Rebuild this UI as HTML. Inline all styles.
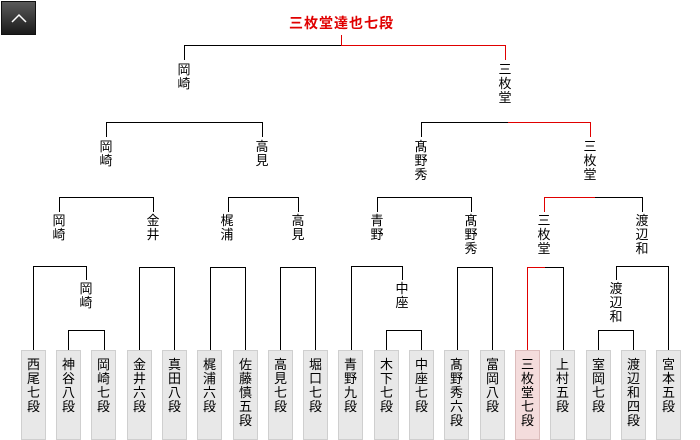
<!DOCTYPE html>
<html><head><meta charset="utf-8"><style>
body{margin:0;background:#fff;width:700px;height:440px;position:relative;overflow:hidden;font-family:"Liberation Sans","Noto Sans CJK JP",sans-serif;}
.l{position:absolute;width:16px;margin-left:-8px;font-size:13px;line-height:14px;text-align:center;color:#000;}
.b{position:absolute;top:350px;background:#e8e8e8;border:1px solid #cfcfcf;font-size:13px;line-height:14px;text-align:center;padding-top:7px;box-sizing:border-box;width:25px;height:90px;}
.b.r{background:#f4dcdc;border-color:#dcbcbc;}
#up{position:absolute;left:1px;top:1px;width:35px;height:34px;background:linear-gradient(#5a5a5a,#1a1a1a);border:1px solid #111;box-sizing:border-box;}
#t{position:absolute;left:289px;top:15px;font-size:14px;font-weight:bold;color:#e00000;letter-spacing:1px;line-height:16px;}
.h,.v{position:absolute;background:#000;}
.h{height:1px}.v{width:1px}
.red{background:#e00000;}
</style></head><body>
<div id="up"><svg width="35" height="34"><polyline points="10,20 17,13 24,20" fill="none" stroke="#fff" stroke-width="1.5"/></svg></div>
<div id="t">三枚堂達也七段</div>
<svg width="700" height="440" style="position:absolute;left:0;top:0" shape-rendering="crispEdges">
<g stroke="#000" stroke-width="1" fill="none">
<polyline points="68.5,350 68.5,330.5 104.5,330.5 104.5,350"/>
<polyline points="386.5,350 386.5,330.5 421.5,330.5 421.5,350"/>
<polyline points="598.5,350 598.5,330.5 633.5,330.5 633.5,350"/>
<polyline points="33.5,350 33.5,266.5 86.5,266.5 86.5,280"/>
<polyline points="351.5,350 351.5,266.5 402.5,266.5 402.5,280"/>
<polyline points="668.5,350 668.5,266.5 616.5,266.5 616.5,280"/>
<polyline points="139.5,350 139.5,267.5 174.5,267.5 174.5,350"/>
<polyline points="210.5,350 210.5,267.5 245.5,267.5 245.5,350"/>
<polyline points="280.5,350 280.5,267.5 315.5,267.5 315.5,350"/>
<polyline points="457.5,350 457.5,267.5 492.5,267.5 492.5,350"/>
<polyline points="59.5,212 59.5,197.5 153.5,197.5 153.5,212"/>
<polyline points="228.5,212 228.5,197.5 298.5,197.5 298.5,212"/>
<polyline points="377.5,212 377.5,197.5 471.5,197.5 471.5,212"/>
<polyline points="106.5,137 106.5,122.5 262.5,122.5 262.5,137"/>
<polyline points="421.5,137 421.5,122.5 508,122.5"/>
<polyline points="184.5,60 184.5,45.5 341,45.5"/>
</g>
</svg>
<div class="v red" style="left:527px;top:267px;height:83px"></div>
<div class="h red" style="left:527px;top:267px;width:18px"></div>
<div class="h" style="left:545px;top:267px;width:19px"></div>
<div class="v" style="left:563px;top:267px;height:83px"></div>
<div class="v red" style="left:544px;top:197px;height:15px"></div>
<div class="h red" style="left:544px;top:197px;width:51px"></div>
<div class="h" style="left:595px;top:197px;width:48px"></div>
<div class="v" style="left:642px;top:197px;height:15px"></div>
<div class="h red" style="left:508px;top:122px;width:83px"></div>
<div class="v red" style="left:590px;top:122px;height:15px"></div>
<div class="h red" style="left:341px;top:45px;width:165px"></div>
<div class="v red" style="left:505px;top:45px;height:15px"></div>
<div class="v red" style="left:341px;top:35px;height:11px"></div>
<div class="l" style="left:184px;top:63px">岡<br>崎</div>
<div class="l" style="left:505px;top:63px">三<br>枚<br>堂</div>
<div class="l" style="left:106px;top:140px">岡<br>崎</div>
<div class="l" style="left:262px;top:140px">高<br>見</div>
<div class="l" style="left:421px;top:140px">髙<br>野<br>秀</div>
<div class="l" style="left:590px;top:140px">三<br>枚<br>堂</div>
<div class="l" style="left:59px;top:214px">岡<br>崎</div>
<div class="l" style="left:153px;top:214px">金<br>井</div>
<div class="l" style="left:227px;top:214px">梶<br>浦</div>
<div class="l" style="left:298px;top:214px">高<br>見</div>
<div class="l" style="left:377px;top:214px">青<br>野</div>
<div class="l" style="left:471px;top:214px">髙<br>野<br>秀</div>
<div class="l" style="left:544px;top:214px">三<br>枚<br>堂</div>
<div class="l" style="left:642px;top:214px">渡<br>辺<br>和</div>
<div class="l" style="left:86px;top:282px">岡<br>崎</div>
<div class="l" style="left:402px;top:282px">中<br>座</div>
<div class="l" style="left:616px;top:282px">渡<br>辺<br>和</div>
<div class="b" style="left:21px">西<br>尾<br>七<br>段</div>
<div class="b" style="left:56px">神<br>谷<br>八<br>段</div>
<div class="b" style="left:91px">岡<br>崎<br>七<br>段</div>
<div class="b" style="left:127px">金<br>井<br>六<br>段</div>
<div class="b" style="left:162px">真<br>田<br>八<br>段</div>
<div class="b" style="left:197px">梶<br>浦<br>六<br>段</div>
<div class="b" style="left:233px">佐<br>藤<br>慎<br>五<br>段</div>
<div class="b" style="left:268px">高<br>見<br>七<br>段</div>
<div class="b" style="left:303px">堀<br>口<br>七<br>段</div>
<div class="b" style="left:338px">青<br>野<br>九<br>段</div>
<div class="b" style="left:374px">木<br>下<br>七<br>段</div>
<div class="b" style="left:409px">中<br>座<br>七<br>段</div>
<div class="b" style="left:444px">髙<br>野<br>秀<br>六<br>段</div>
<div class="b" style="left:480px">富<br>岡<br>八<br>段</div>
<div class="b r" style="left:515px">三<br>枚<br>堂<br>七<br>段</div>
<div class="b" style="left:550px">上<br>村<br>五<br>段</div>
<div class="b" style="left:586px">室<br>岡<br>七<br>段</div>
<div class="b" style="left:621px">渡<br>辺<br>和<br>四<br>段</div>
<div class="b" style="left:656px">宮<br>本<br>五<br>段</div>
</body></html>
